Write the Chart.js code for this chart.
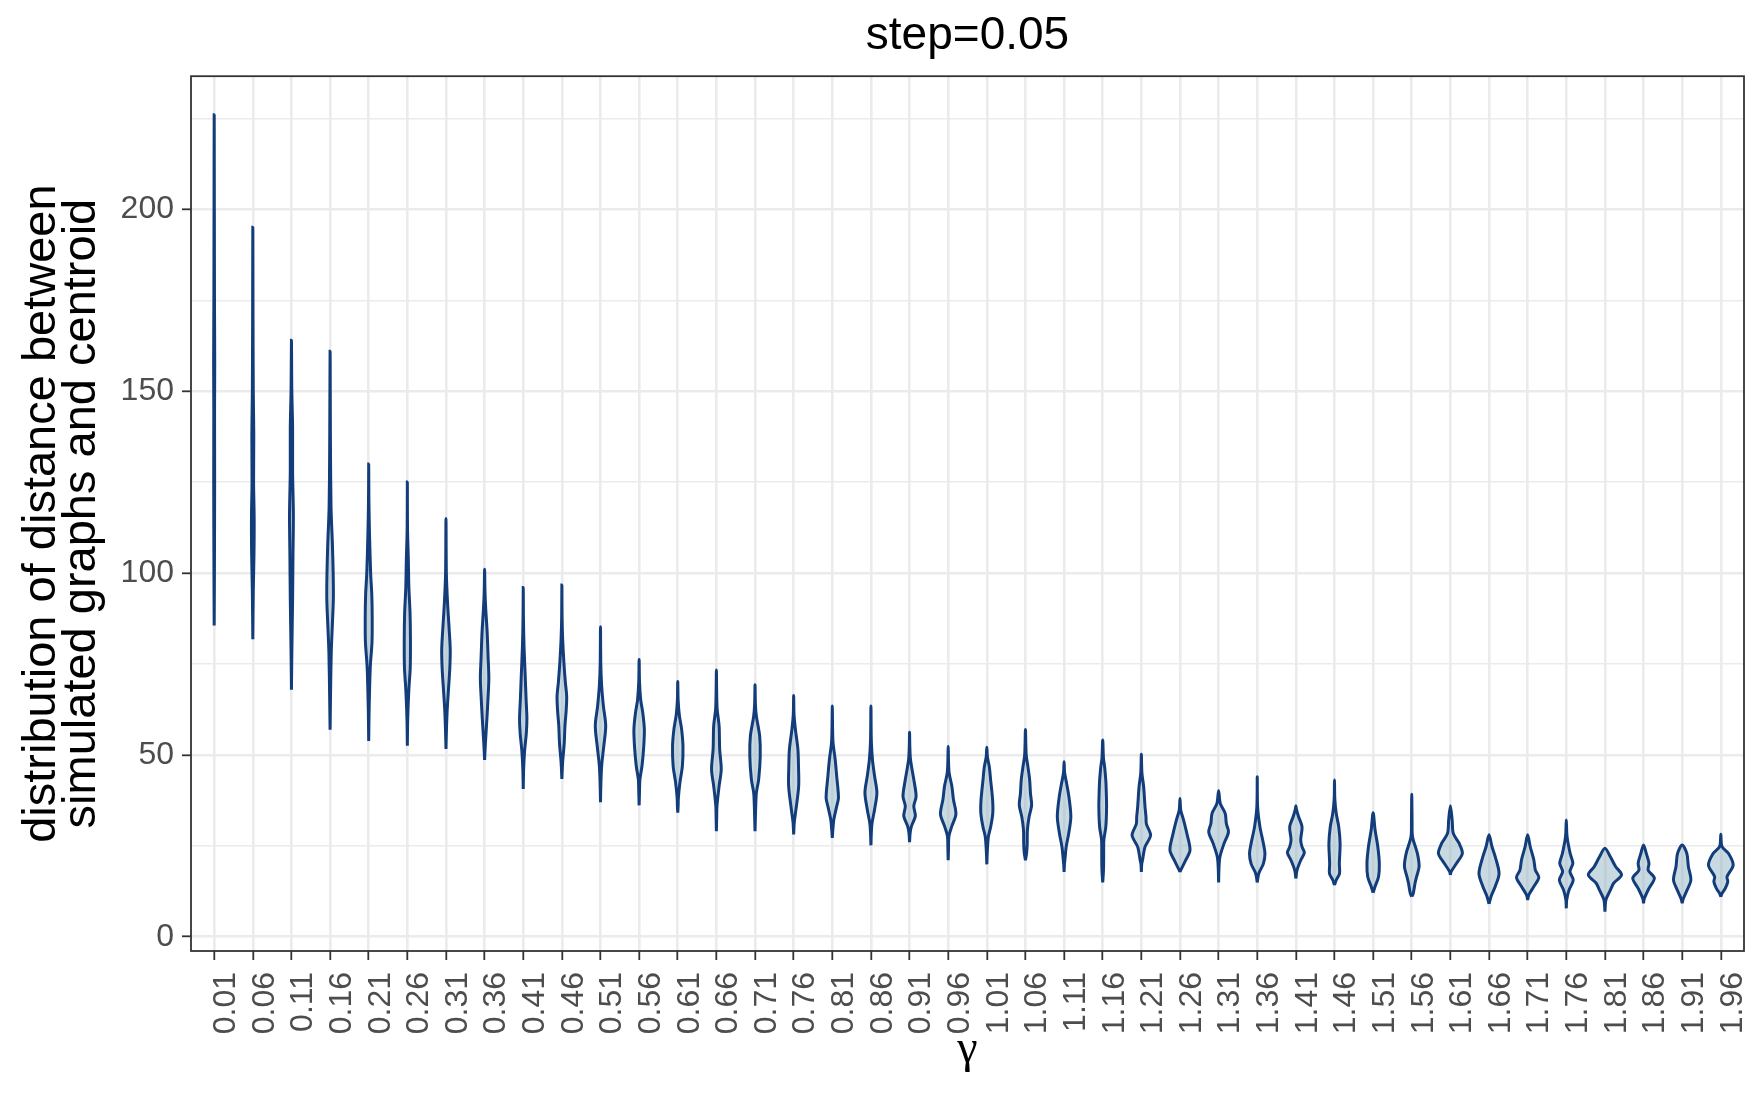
<!DOCTYPE html>
<html lang="en">
<head>
  <meta charset="UTF-8">
  <title>Distance to centroid by gamma</title>
  <script src="https://cdn.jsdelivr.net/npm/chart.js"></script>
  <style>
    body {
      margin: 0;
      background: #ffffff;
    }
    #chartBox {
      width: 1760px;
      height: 1100px;
    }
  </style>
</head>
<body>
  <div id="chartBox">
    <canvas id="violinChart" width="1760" height="1100"></canvas>
  </div>

  <script>
    const gammaLabels = ['0.01', '0.06', '0.11', '0.16', '0.21', '0.26', '0.31', '0.36', '0.41', '0.46',
      '0.51', '0.56', '0.61', '0.66', '0.71', '0.76', '0.81', '0.86', '0.91', '0.96',
      '1.01', '1.06', '1.11', '1.16', '1.21', '1.26', '1.31', '1.36', '1.41', '1.46',
      '1.51', '1.56', '1.61', '1.66', '1.71', '1.76', '1.81', '1.86', '1.91', '1.96'];

    // lowest / highest distance of each violin
    const distMin = [85.6, 81.8, 67.9, 56.9, 53.8, 52.5, 51.6, 48.6, 40.6, 43.4,
      37, 36.1, 34.1, 29, 29, 28.1, 27.2, 25.1, 26, 21,
      19.9, 21, 17.8, 14.9, 17.8, 17.8, 14.9, 14.9, 16, 14.2,
      12.1, 11, 17, 9, 10.1, 7.8, 6.9, 9.2, 9.2, 11];
    const distMax = [226, 195.1, 164, 161, 130, 125, 115, 101, 96, 96.7,
      85.2, 76.2, 70.2, 73.3, 69.3, 66.3, 63.4, 63.4, 56.2, 52.4,
      52.1, 57, 48.1, 54.1, 50.2, 38, 40.1, 44, 36, 43.1,
      34.1, 39.2, 36, 28, 28, 32.1, 24.3, 25.2, 25.2, 28.2];

    // density outline: [distance, half width in category units], bottom to top
    const violinKnots = [
      [[100, 0.006], [125, 0.012], [145, 0.01], [158, 0.014], [175, 0.008], [200, 0.004]],
      [[95, 0.012], [105, 0.03], [115, 0.035], [125, 0.02], [138, 0.025], [150, 0.012], [170, 0.005]],
      [[78, 0.01], [93, 0.03], [105, 0.04], [116, 0.05], [128, 0.03], [140, 0.03], [150, 0.01]],
      [[65, 0.01], [78, 0.03], [86, 0.06], [93, 0.085], [100, 0.08], [108, 0.06], [118, 0.025], [135, 0.01]],
      [[62, 0.01], [74, 0.04], [81, 0.085], [88, 0.09], [94, 0.08], [100, 0.05], [111, 0.02], [120, 0.005]],
      [[60, 0.01], [68, 0.04], [74, 0.075], [82, 0.08], [89, 0.07], [96, 0.04], [104, 0.025], [112, 0.005]],
      [[56, 0.01], [62, 0.03], [68, 0.065], [74, 0.1], [79, 0.11], [85, 0.08], [92, 0.04], [100, 0.01]],
      [[53, 0.02], [60, 0.06], [66, 0.09], [71, 0.11], [77, 0.09], [84, 0.065], [90, 0.03], [95, 0.01]],
      [[46, 0.01], [51, 0.035], [56, 0.08], [60, 0.095], [65, 0.075], [72, 0.05], [80, 0.02], [88, 0.005]],
      [[48, 0.02], [53, 0.06], [58, 0.08], [62, 0.11], [66, 0.125], [70, 0.09], [75, 0.055], [82, 0.02], [88, 0.005]],
      [[42, 0.01], [47, 0.03], [52.4, 0.085], [58, 0.135], [63.4, 0.075], [69, 0.03], [75, 0.008]],
      [[40, 0.01], [43.2, 0.02], [47, 0.075], [52.4, 0.12], [57, 0.135], [61.5, 0.095], [65.2, 0.04], [70, 0.01]],
      [[36, 0.01], [38, 0.015], [42.3, 0.055], [47, 0.12], [52.4, 0.135], [57, 0.1], [61, 0.04], [65, 0.01]],
      [[33, 0.008], [36, 0.015], [41.4, 0.07], [46, 0.125], [51.5, 0.085], [58, 0.07], [62.5, 0.02], [67, 0.008]],
      [[33, 0.01], [36.5, 0.02], [39.6, 0.035], [43.3, 0.095], [49.7, 0.135], [55.2, 0.12], [60.6, 0.035], [64, 0.01]],
      [[30, 0.008], [31.4, 0.015], [35, 0.06], [41.4, 0.13], [47, 0.125], [51.5, 0.11], [57, 0.045], [61, 0.01]],
      [[29.5, 0.015], [32.2, 0.04], [35.9, 0.115], [38.2, 0.16], [44, 0.115], [48.7, 0.075], [53.3, 0.02], [57, 0.008]],
      [[28.5, 0.01], [31.3, 0.03], [35, 0.095], [39.6, 0.155], [44.1, 0.095], [48.7, 0.04], [54, 0.01]],
      [[28.5, 0.015], [30.4, 0.05], [33.2, 0.15], [35.9, 0.11], [38.6, 0.17], [43.2, 0.11], [48.7, 0.025], [52, 0.008]],
      [[24, 0.008], [27.7, 0.02], [30.4, 0.095], [33.7, 0.2], [37.8, 0.135], [41.4, 0.095], [45, 0.025], [48.5, 0.008]],
      [[23, 0.01], [27.5, 0.04], [30.2, 0.1], [34, 0.155], [37.6, 0.15], [43, 0.1], [46.7, 0.065], [49.5, 0.015]],
      [[23, 0.03], [25.6, 0.045], [29.3, 0.05], [33, 0.095], [36.2, 0.16], [39.4, 0.13], [43, 0.11], [46.7, 0.065], [50, 0.02]],
      [[20, 0.01], [21, 0.02], [24.7, 0.055], [28.4, 0.12], [33, 0.175], [38.5, 0.125], [42.2, 0.065], [45, 0.015]],
      [[18.3, 0.02], [22, 0.025], [26.6, 0.03], [30.2, 0.08], [35.7, 0.1], [40.5, 0.09], [43, 0.08], [46.7, 0.05], [49, 0.02]],
      [[20, 0.01], [21, 0.03], [24.7, 0.095], [27.9, 0.24], [31, 0.13], [33, 0.12], [35.7, 0.095], [41.2, 0.06], [45, 0.015]],
      [[18.3, 0.02], [21, 0.145], [23.8, 0.26], [28.3, 0.18], [32, 0.095], [34.8, 0.02]],
      [[19, 0.01], [22, 0.035], [25.6, 0.14], [28.8, 0.255], [31.1, 0.2], [33.9, 0.17], [36.6, 0.045]],
      [[17.4, 0.04], [20.1, 0.16], [22.9, 0.2], [25.6, 0.16], [30.2, 0.07], [35.7, 0.01]],
      [[18.3, 0.03], [21, 0.125], [23.1, 0.22], [24.7, 0.16], [26.6, 0.125], [30.2, 0.16], [33, 0.07], [35, 0.015]],
      [[15.6, 0.045], [17.4, 0.13], [20.1, 0.125], [25.6, 0.145], [30.2, 0.11], [33.9, 0.045], [38, 0.008]],
      [[13.8, 0.05], [16.5, 0.14], [20.2, 0.16], [24.8, 0.12], [29.4, 0.05]],
      [[12, 0.04], [14.7, 0.085], [16.5, 0.125], [19.3, 0.19], [22.9, 0.145], [27.5, 0.02], [32, 0.008]],
      [[17.9, 0.02], [20.2, 0.16], [22.9, 0.31], [25.7, 0.225], [28.4, 0.075], [32.1, 0.045]],
      [[11, 0.05], [13.8, 0.16], [17.4, 0.26], [22, 0.16], [24.8, 0.075]],
      [[11.5, 0.03], [13.8, 0.16], [16.3, 0.29], [18.3, 0.2], [21.1, 0.16], [24.8, 0.065]],
      [[10.1, 0.01], [12.8, 0.07], [15.6, 0.18], [17.9, 0.095], [20.2, 0.17], [22.9, 0.1], [27.5, 0.02]],
      [[10.1, 0.025], [12.8, 0.14], [14.7, 0.225], [17, 0.43], [19.3, 0.275], [22, 0.14]],
      [[10.5, 0.02], [13.3, 0.14], [16.1, 0.28], [18.3, 0.12], [20.2, 0.14], [22.9, 0.07]],
      [[10.5, 0.03], [12.8, 0.125], [15.6, 0.225], [19.3, 0.16], [22.9, 0.12]],
      [[11.9, 0.03], [13.3, 0.115], [15.1, 0.18], [16.5, 0.16], [19.7, 0.32], [22.9, 0.2], [24.8, 0.03]]
    ];

    const yTickValues = [0, 25, 50, 75, 100, 125, 150, 175, 200, 225];

    const SANS = "'Liberation Sans', Arial, Helvetica, sans-serif";
    const SERIF = "'Liberation Serif', 'DejaVu Serif', 'Times New Roman', serif";

    // closed outline: up the right side, down the left side
    function violinOutline(i) {
      const knots = violinKnots[i];
      const right = knots.map(([y, w]) => ({ x: i + w, y: y }));
      const left = knots.slice().reverse().map(([y, w]) => ({ x: i - w, y: y }));
      return [{ x: i, y: distMin[i] }, ...right, { x: i, y: distMax[i] }, ...left, { x: i, y: distMin[i] }];
    }

    const datasets = gammaLabels.map((g, i) => ({
      label: g,
      data: violinOutline(i),
      borderColor: '#123c7a',
      borderWidth: 3,
      backgroundColor: 'rgba(145,180,197,0.5)',
      fill: 'shape',
      tension: 0.3,
      pointRadius: 0
    }));

    // ggplot-style panel border round the plot area
    const panelBorder = {
      id: 'panelBorder',
      afterDraw(chart) {
        const { ctx, chartArea: a } = chart;
        ctx.save();
        ctx.strokeStyle = '#333333';
        ctx.lineWidth = 1.8;
        ctx.strokeRect(a.left, a.top, a.right - a.left, a.bottom - a.top);
        ctx.restore();
      }
    };

    const isMajor = (v) => v % 50 === 0;

    new Chart(document.getElementById('violinChart'), {
      type: 'line',
      data: { datasets: datasets },
      plugins: [panelBorder],
      options: {
        responsive: false,
        animation: false,
        events: [],
        layout: { padding: { right: 16, left: 0, top: 0, bottom: 0 } },
        plugins: {
          legend: { display: false },
          tooltip: { enabled: false },
          title: {
            display: true,
            text: 'step=0.05',
            fullSize: false,
            color: '#000000',
            font: { family: SANS, size: 46, weight: 'normal' },
            padding: { top: 9, bottom: 12 }
          }
        },
        scales: {
          x: {
            type: 'linear',
            min: -0.6,
            max: 39.6,
            afterBuildTicks: (scale) => {
              scale.ticks = gammaLabels.map((_, i) => ({ value: i }));
            },
            afterFit: (scale) => {
              scale.height = 149;
              scale.paddingLeft = 0;
              scale.paddingRight = 0;
            },
            border: { display: false },
            grid: {
              color: '#ebebeb',
              lineWidth: 2.6,
              tickColor: '#333333',
              tickWidth: 1.8,
              tickLength: 9
            },
            ticks: {
              autoSkip: false,
              minRotation: 90,
              maxRotation: 90,
              labelOffset: 12,
              padding: 12,
              color: '#4d4d4d',
              font: { family: SANS, size: 32 },
              callback: (v) => gammaLabels[v]
            },
            title: {
              display: true,
              text: 'γ',
              color: '#000000',
              font: { family: SERIF, size: 46 },
              padding: { top: 0, bottom: 22 }
            }
          },
          y: {
            type: 'linear',
            min: -3.93,
            max: 236.6,
            afterBuildTicks: (scale) => {
              scale.ticks = yTickValues.map(v => ({ value: v }));
            },
            afterFit: (scale) => {
              scale.width = 191;
              scale.paddingTop = 0;
              scale.paddingBottom = 0;
            },
            border: { display: false },
            grid: {
              color: '#ebebeb',
              lineWidth: (c) => (c.tick && isMajor(c.tick.value) ? 2.6 : 1.4),
              tickColor: (c) => (c.tick && isMajor(c.tick.value) ? '#333333' : 'rgba(0,0,0,0)'),
              tickWidth: 1.8,
              tickLength: 9
            },
            ticks: {
              padding: 8,
              color: '#4d4d4d',
              font: { family: SANS, size: 32 },
              callback: (v) => (isMajor(v) ? String(v) : '')
            },
            title: {
              display: true,
              text: ['distribution of distance between', 'simulated graphs and centroid'],
              color: '#000000',
              font: { family: SANS, size: 47, lineHeight: 0.85 },
              padding: { top: 22, bottom: 0 }
            }
          }
        }
      }
    });
  </script>
</body>
</html>
